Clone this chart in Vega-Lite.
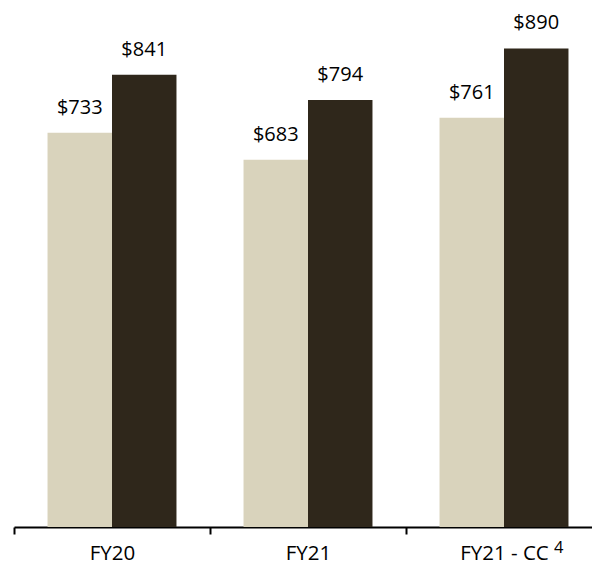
{
  "$schema": "https://vega.github.io/schema/vega-lite/v6.json",
  "width": 578,
  "height": 527,
  "autosize": {"type": "none"},
  "padding": {"left": 14, "top": 0, "right": 0, "bottom": 38},
  "background": "white",
  "config": {"view": {"stroke": null}, "font": "Open Sans"},
  "data": {
    "values": [
      {"category": "FY20", "series": "Series 1", "value": 733},
      {"category": "FY20", "series": "Series 2", "value": 841},
      {"category": "FY21", "series": "Series 1", "value": 683},
      {"category": "FY21", "series": "Series 2", "value": 794},
      {"category": "FY21 - CC", "series": "Series 1", "value": 761},
      {"category": "FY21 - CC", "series": "Series 2", "value": 890}
    ]
  },
  "encoding": {
    "x": {
      "field": "category",
      "type": "nominal",
      "sort": ["FY20", "FY21", "FY21 - CC"],
      "scale": {"range": [0, 588], "paddingInner": 0, "paddingOuter": 0},
      "axis": {
        "title": null,
        "labelAngle": 0,
        "labelFont": "Open Sans",
        "labelFontSize": 20.5,
        "labelColor": "#000000",
        "labelPadding": 9,
        "domainColor": "#000000",
        "domainWidth": 2,
        "tickColor": "#000000",
        "tickWidth": 2,
        "tickSize": 7,
        "tickBand": "extent",
        "grid": false
      }
    }
  },
  "layer": [
    {
      "mark": {"type": "bar"},
      "encoding": {
        "xOffset": {
          "field": "series",
          "type": "nominal",
          "sort": ["Series 1", "Series 2"],
          "scale": {"paddingInner": 0, "paddingOuter": 0.52}
        },
        "y": {
          "field": "value",
          "type": "quantitative",
          "scale": {"domain": [0, 980], "nice": false, "zero": true},
          "axis": null
        },
        "color": {
          "field": "series",
          "type": "nominal",
          "scale": {"domain": ["Series 1", "Series 2"], "range": ["#D9D3BC", "#2F271B"]},
          "legend": null
        }
      }
    },
    {
      "mark": {
        "type": "text",
        "baseline": "alphabetic",
        "align": "center",
        "dy": -19,
        "fontSize": 20,
        "font": "Open Sans",
        "color": "#000000"
      },
      "encoding": {
        "xOffset": {
          "field": "series",
          "type": "nominal",
          "sort": ["Series 1", "Series 2"],
          "scale": {"paddingInner": 0, "paddingOuter": 0.52}
        },
        "y": {
          "field": "value",
          "type": "quantitative",
          "scale": {"domain": [0, 980], "nice": false, "zero": true},
          "axis": null
        },
        "text": {"field": "value", "type": "quantitative", "format": "$,.0f"}
      }
    },
    {
      "data": {"values": [{"category": "FY21 - CC", "note": "4"}]},
      "mark": {
        "type": "text",
        "baseline": "alphabetic",
        "align": "left",
        "dx": 50,
        "dy": 26,
        "fontSize": 16.5,
        "font": "Open Sans",
        "color": "#000000"
      },
      "encoding": {
        "y": {"datum": 0, "type": "quantitative", "axis": null},
        "text": {"field": "note", "type": "nominal"}
      }
    }
  ]
}
